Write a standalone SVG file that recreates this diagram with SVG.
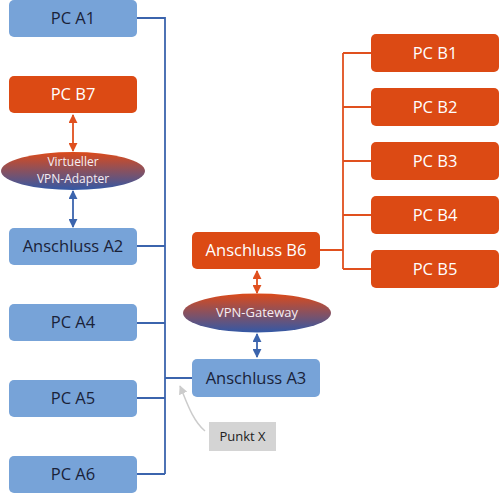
<svg xmlns="http://www.w3.org/2000/svg" width="500" height="495" viewBox="0 0 500 495">
<defs>
<linearGradient id="g" x1="0" y1="0" x2="0" y2="1">
<stop offset="0" stop-color="#dc4a1a"/>
<stop offset="1" stop-color="#3358a6"/>
</linearGradient>
<marker id="ao" viewBox="0 0 10 10" refX="9" refY="5" markerWidth="5" markerHeight="5" orient="auto-start-reverse"><path d="M0,0 L10,5 L0,10 z" fill="#e0501e"/></marker>
<marker id="ab" viewBox="0 0 10 10" refX="9" refY="5" markerWidth="5" markerHeight="5" orient="auto-start-reverse"><path d="M0,0 L10,5 L0,10 z" fill="#3b64ad"/></marker>
<marker id="ag" viewBox="0 0 10 10" refX="9" refY="5" markerWidth="6" markerHeight="6" orient="auto"><path d="M0,0 L10,5 L0,10 z" fill="#cccccc"/></marker>
<style>
.a rect{fill:#77a3d8}
.b rect{fill:#dc4a14}
text{font-family:"Open Sans",sans-serif;font-size:16.5px;text-anchor:middle}
.a text{fill:#1a2238}
.b text{fill:#ffffff}
.e text{fill:#f4eef4;font-size:13px}
.e text.s{font-size:12px}
.lb{stroke:#3b64ad;stroke-width:1.8;fill:none}
.lo{stroke:#e0501e;stroke-width:1.8;fill:none}
</style>
</defs>
<g id="connectors">
<path class="lb" d="M137,18 H165 V474 M137,246 H165 M137,323 H165 M137,398 H165 M137,474 H165 M165,378 H192"/>
<path class="lo" d="M320,250 H343 M343,53 V269 M343,53 H371 M343,107 H371 M343,161 H371 M343,215 H371 M343,269 H371"/>
<line class="lo" x1="73" y1="115" x2="73" y2="151" marker-start="url(#ao)" marker-end="url(#ao)"/>
<line class="lb" x1="73" y1="191" x2="73" y2="227" marker-start="url(#ab)" marker-end="url(#ab)"/>
<line class="lo" x1="257" y1="271" x2="257" y2="293" marker-start="url(#ao)" marker-end="url(#ao)"/>
<line class="lb" x1="257" y1="334" x2="257" y2="357" marker-start="url(#ab)" marker-end="url(#ab)"/>
<path d="M205,431 C192,420 186,400 180,386" stroke="#cccccc" stroke-width="1.5" fill="none" marker-end="url(#ag)"/>
</g>
<g id="pca1" class="a"><rect x="9" y="0" width="128" height="37" rx="5"/><text x="73" y="24">PC A1</text></g>
<g id="pcb7" class="b"><rect x="9" y="76" width="128" height="37" rx="5"/><text x="73" y="100">PC B7</text></g>
<g id="vpnadapter" class="e"><ellipse cx="73" cy="171" rx="72" ry="19" fill="url(#g)"/><text class="s" x="73" y="166">Virtueller</text><text class="s" x="73" y="182.5">VPN-Adapter</text></g>
<g id="a2" class="a"><rect x="9" y="228" width="128" height="37" rx="5"/><text x="73" y="252">Anschluss A2</text></g>
<g id="pca4" class="a"><rect x="9" y="304" width="128" height="37" rx="5"/><text x="73" y="328">PC A4</text></g>
<g id="pca5" class="a"><rect x="9" y="380" width="128" height="37" rx="5"/><text x="73" y="404">PC A5</text></g>
<g id="pca6" class="a"><rect x="9" y="456" width="128" height="37" rx="5"/><text x="73" y="480">PC A6</text></g>
<g id="b6" class="b"><rect x="192" y="232" width="128" height="37" rx="5"/><text x="256" y="256">Anschluss B6</text></g>
<g id="gateway" class="e"><ellipse cx="257" cy="313" rx="74" ry="19.5" fill="url(#g)"/><text x="257" y="317">VPN-Gateway</text></g>
<g id="a3" class="a"><rect x="192" y="359" width="128" height="38" rx="5"/><text x="256" y="384">Anschluss A3</text></g>
<g id="pcb1" class="b"><rect x="371" y="34" width="128" height="38" rx="5"/><text x="435" y="59">PC B1</text></g>
<g id="pcb2" class="b"><rect x="371" y="88" width="128" height="38" rx="5"/><text x="435" y="113">PC B2</text></g>
<g id="pcb3" class="b"><rect x="371" y="142" width="128" height="38" rx="5"/><text x="435" y="167">PC B3</text></g>
<g id="pcb4" class="b"><rect x="371" y="196" width="128" height="38" rx="5"/><text x="435" y="221">PC B4</text></g>
<g id="pcb5" class="b"><rect x="371" y="250" width="128" height="38" rx="5"/><text x="435" y="275">PC B5</text></g>
<g id="punktx"><rect x="209" y="422" width="67" height="29" fill="#d4d4d4"/><text x="242.5" y="441" style="font-size:13px;fill:#222">Punkt X</text></g>
</svg>
